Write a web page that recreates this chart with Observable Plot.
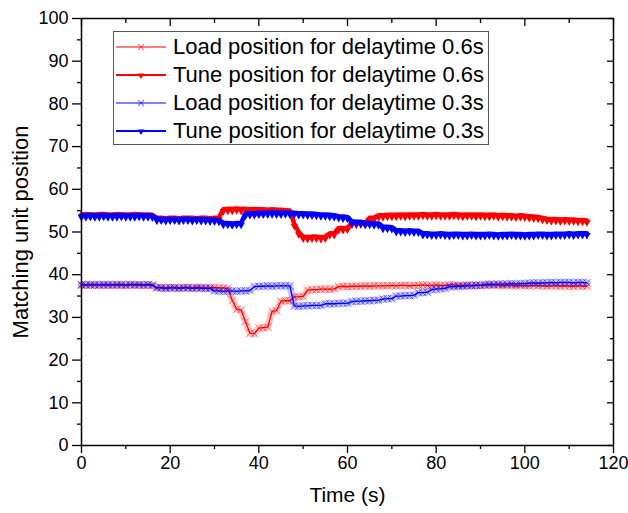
<!DOCTYPE html>
<html>
<head>
<meta charset="utf-8">
<script src="https://cdn.jsdelivr.net/npm/d3@7"></script>
<script src="https://cdn.jsdelivr.net/npm/@observablehq/plot@0.6"></script>
<style>
  body { margin: 0; background: #fff; font-family: "Liberation Sans", Arial, sans-serif; }
  #wrap { position: relative; width: 628px; height: 513px; }
  #legend { position: absolute; left: 113px; top: 31px; width: 376px; height: 114px;
    border: 1px solid #555; background: #fff; box-sizing: border-box; }
  .row { position: absolute; left: 0; height: 28px; display: flex; align-items: center; }
  .row svg { margin-left: 1px; }
  .row span { margin-left: 6px; font-size: 22px; color: #000; white-space: nowrap; }
</style>
</head>
<body>
<div id="wrap"></div>
<script>
const seriesNames = [
  "Load position for delaytime 0.6s",
  "Tune position for delaytime 0.6s",
  "Load position for delaytime 0.3s",
  "Tune position for delaytime 0.3s"
];
const time = [0,1,2,3,4,5,6,7,8,9,10,11,12,13,14,15,16,17,18,19,20,21,22,23,24,25,26,27,28,29,30,31,32,33,34,35,36,37,38,39,40,41,42,43,44,45,46,47,48,49,50,51,52,53,54,55,56,57,58,59,60,61,62,63,64,65,66,67,68,69,70,71,72,73,74,75,76,77,78,79,80,81,82,83,84,85,86,87,88,89,90,91,92,93,94,95,96,97,98,99,100,101,102,103,104,105,106,107,108,109,110,111,112,113,114];
const load06 = [37.5,37.6,37.5,37.5,37.6,37.5,37.5,37.6,37.5,37.5,37.5,37.6,37.5,37.5,37.5,37.6,37.4,
  37.0,37.0,36.9,37.0,37.0,36.9,37.0,37.0,36.9,37.0,37.0,36.9,36.9,37.0,36.9,36.9,36.8,
  34.0,31.9,31.7,29.0,26.3,26.2,27.5,27.6,27.7,31.4,31.6,33.8,33.9,33.9,34.8,34.8,34.9,
  36.4,36.5,36.5,36.6,36.6,36.6,36.7,
  37.2,37.3,37.2,37.3,37.3,37.3,37.4,37.3,37.4,37.4,37.4,37.4,37.5,37.4,37.5,37.5,37.4,37.5,37.5,37.6,
  37.5,37.5,37.6,37.5,37.5,37.6,37.6,37.5,37.5,37.6,37.5,37.6,37.5,37.5,37.5,37.6,37.5,37.4,37.5,37.5,
  37.4,37.5,37.4,37.4,37.5,37.4,37.4,37.3,37.4,37.4,37.3,37.4,37.3,37.3,37.4,37.3,37.3];
const tune06 = [54.0,54.1,54.0,54.0,54.1,54.1,54.0,54.0,54.1,54.0,54.0,54.0,54.1,54.0,54.0,54.0,53.9,
  53.2,53.2,53.1,53.2,53.2,53.1,53.2,53.2,53.2,53.1,53.2,53.2,53.1,53.2,53.3,
  55.2,55.3,55.3,55.4,55.3,55.3,55.2,55.3,55.2,55.2,55.1,55.2,55.1,55.1,
  55.0,54.9,51.8,49.8,48.8,48.7,48.8,48.8,48.7,48.8,49.6,49.6,50.8,50.8,50.9,
  52.0,52.0,52.1,52.1,53.2,53.3,
  53.8,53.8,53.9,53.9,53.9,54.0,53.9,54.0,54.0,
  54.0,54.1,54.0,54.0,54.1,54.0,54.0,54.0,54.1,54.0,53.9,54.0,54.0,53.9,54.0,53.9,53.9,54.0,53.8,53.9,53.8,53.8,53.7,53.8,53.7,
  53.6,53.5,53.4,53.2,53.0,
  52.9,52.9,52.8,52.9,52.8,52.8,52.7,52.7,52.6];
const load03 = [37.7,37.6,37.7,37.7,37.6,37.7,37.7,37.6,37.7,37.7,37.6,37.7,37.7,37.7,37.6,37.7,37.6,
  36.9,36.9,36.8,36.9,36.9,36.8,36.9,36.9,36.8,36.9,36.8,36.8,36.8,
  36.2,36.2,36.1,36.2,36.2,36.1,36.2,36.2,36.3,
  37.2,37.3,37.3,37.4,37.3,37.4,37.4,37.4,37.4,
  32.7,32.6,32.7,32.7,32.8,32.8,32.8,
  33.2,33.2,33.2,33.3,33.3,33.3,
  33.7,33.8,33.8,33.9,33.9,34.0,34.0,
  34.3,34.4,34.4,35.0,35.0,35.1,35.1,35.2,35.8,35.8,35.9,36.5,36.6,36.7,36.8,
  37.2,37.2,37.3,37.3,37.4,37.4,37.5,37.5,
  37.7,37.8,37.7,37.8,37.8,37.8,37.9,37.8,37.9,37.9,
  38.0,38.1,38.0,38.1,38.1,38.2,38.1,38.2,38.2,38.2,38.1,38.2,38.2,38.1];
const tune03 = [53.8,53.8,53.9,53.8,53.8,53.9,53.8,53.8,53.8,53.9,53.8,53.8,53.8,53.9,53.8,53.8,53.7,
  53.0,53.0,52.9,53.0,53.0,52.9,53.0,53.0,52.9,53.0,52.9,52.9,
  52.8,52.8,52.7,52.0,52.0,51.9,52.0,52.0,
  54.2,54.3,54.3,54.4,54.4,54.4,54.5,54.4,54.4,54.5,54.4,54.4,54.3,54.3,54.2,54.2,54.1,54.0,54.0,53.9,53.8,
  53.6,53.5,53.4,52.4,52.3,52.3,52.0,52.0,51.9,51.9,51.1,51.1,51.0,
  50.3,50.3,50.2,50.3,50.2,50.2,
  49.6,49.6,49.5,49.5,49.6,49.5,49.4,49.5,49.5,49.4,49.4,49.5,49.4,49.4,49.4,49.5,49.4,49.3,49.4,49.4,
  49.5,49.4,49.4,49.3,49.4,49.4,49.5,49.5,49.4,49.4,49.5,49.5,49.5,49.6,49.5,49.6,49.6,49.6];
const xMajor = [0,20,40,60,80,100,120];
const xMinor = [10,30,50,70,90,110];
const yMajor = [0,10,20,30,40,50,60,70,80,90,100];
const yMinor = [5,15,25,35,45,55,65,75,85,95];

const RED = "#ff0000", BLUE = "#0000ff";
const mk = (vals) => time.map((t, i) => ({t, v: vals[i]}));
const L6 = mk(load06), T6 = mk(tune06), L3 = mk(load03), T3 = mk(tune03);

function loadMarks(data, color) {
  return [
    Plot.line(data, {x: "t", y: "v", stroke: color, strokeWidth: 7, strokeOpacity: 0.22}),
    Plot.dot(data, {x: "t", y: "v", symbol: "times", r: 3.6, stroke: color, strokeWidth: 1, strokeOpacity: 0.5}),
    Plot.line(data, {x: "t", y: "v", stroke: color, strokeWidth: 1.3})
  ];
}
function tuneMarks(data, color) {
  return [
    Plot.line(data, {x: "t", y: "v", stroke: color, strokeWidth: 4.5, dy: -0.5}),
    Plot.dot(data, {x: "t", y: "v", symbol: "triangle", r: 2.8, fill: color, stroke: "none", rotate: 180, dy: 1.5})
  ];
}

const chart = Plot.plot({
  width: 628, height: 513,
  marginLeft: 81, marginRight: 15, marginTop: 18, marginBottom: 68,
  style: {fontFamily: "Liberation Sans, Arial, sans-serif", fontSize: "18px", color: "#000", background: "#fff"},
  x: {domain: [0, 120]},
  y: {domain: [0, 100]},
  marks: [
    ...loadMarks(L6, RED),
    ...tuneMarks(T6, RED),
    ...loadMarks(L3, BLUE),
    ...tuneMarks(T3, BLUE),
    Plot.frame({stroke: "#000", strokeWidth: 1.5}),
    Plot.axisX({ticks: xMajor, tickSize: 8, tickPadding: 3, label: null, fontSize: 18, strokeWidth: 1.3}),
    Plot.axisX({ticks: xMinor, tickSize: 4, text: null, label: null, strokeWidth: 1.3}),
    Plot.axisX({anchor: "top", ticks: xMajor, tickSize: -7, text: null, label: null, strokeWidth: 1.3}),
    Plot.axisX({anchor: "top", ticks: xMinor, tickSize: -4, text: null, label: null, strokeWidth: 1.3}),
    Plot.axisY({ticks: yMajor, tickSize: 9, tickPadding: 4, label: null, fontSize: 18, strokeWidth: 1.3}),
    Plot.axisY({ticks: yMinor, tickSize: 4, text: null, label: null, strokeWidth: 1.3}),
    Plot.axisY({anchor: "right", ticks: yMajor, tickSize: -7, text: null, label: null, strokeWidth: 1.3}),
    Plot.axisY({anchor: "right", ticks: yMinor, tickSize: -4, text: null, label: null, strokeWidth: 1.3}),
    Plot.text(["Time (s)"], {frameAnchor: "bottom", dy: 56, fontSize: 21, fill: "#000"}),
    Plot.text(["Matching unit position"], {frameAnchor: "left", dx: -61, rotate: -90, textAnchor: "middle", fontSize: 22, fill: "#000"})
  ]
});
const wrap = document.getElementById("wrap");
wrap.appendChild(chart);

// legend overlay
const legend = document.createElement("div");
legend.id = "legend";
const rows = [
  {name: seriesNames[0], color: RED, type: "load"},
  {name: seriesNames[1], color: RED, type: "tune"},
  {name: seriesNames[2], color: BLUE, type: "load"},
  {name: seriesNames[3], color: BLUE, type: "tune"}
];
const rowTops = [1, 29, 57, 85];
rows.forEach((r, i) => {
  const row = document.createElement("div");
  row.className = "row";
  row.style.top = rowTops[i] + "px";
  const sym = r.type === "load"
    ? `<svg width="52" height="14"><line x1="1" y1="7" x2="51" y2="7" stroke="${r.color}" stroke-width="1.2"/><path d="M23,4L29,10M29,4L23,10" stroke="${r.color}" stroke-opacity="0.5" stroke-width="1.2"/></svg>`
    : `<svg width="52" height="14"><line x1="1" y1="7" x2="51" y2="7" stroke="${r.color}" stroke-width="1.8"/><path d="M22.5,5.5L29.5,5.5L26,11Z" fill="${r.color}"/></svg>`;
  row.innerHTML = sym + `<span>${r.name}</span>`;
  legend.appendChild(row);
});
wrap.appendChild(legend);
</script>
</body>
</html>
